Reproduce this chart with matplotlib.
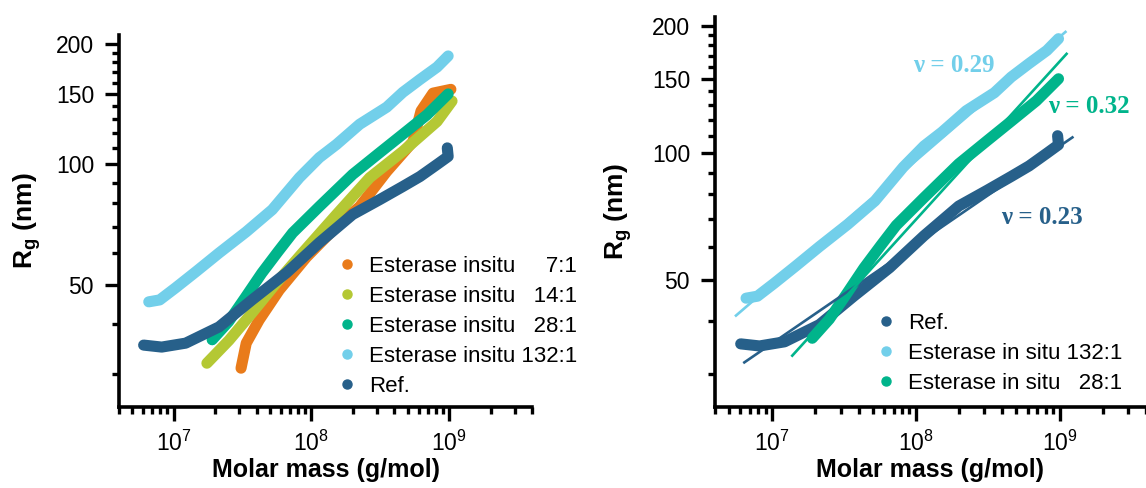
import numpy as np
import matplotlib
matplotlib.use('Agg')
import matplotlib.pyplot as plt
from matplotlib.ticker import FixedLocator, LogLocator, NullFormatter, FixedFormatter
from matplotlib.lines import Line2D

plt.rcParams['font.family'] = ['Liberation Sans', 'DejaVu Sans']
plt.rcParams['mathtext.fontset'] = 'custom'
plt.rcParams['mathtext.rm'] = 'Liberation Sans'
plt.rcParams['mathtext.bf'] = 'Liberation Sans:bold'

# ---- data (molar mass g/mol, Rg nm) ----
ref_m = [6.04e6, 8.17e6, 1.22e7, 2.13e7, 3.7e7, 6.57e7, 1.14e8, 1.99e8, 3.13e8,
         4.61e8, 6.14e8, 8.17e8, 9.84e8, 9.7e8]
ref_rg = [35.4, 35.0, 35.8, 39.3, 45.9, 53.6, 63.8, 75, 81.7, 88.1, 93.3, 100, 104.7, 110]

e132_m = [6.58e6, 7.9e6, 1.03e7, 1.45e7, 2.13e7, 3.36e7, 5.19e7, 8.17e7, 1.14e8,
          1.52e8, 2.24e8, 3.52e8, 4.61e8, 6.14e8, 8.17e8, 9.84e8]
e132_rg = [45.4, 45.9, 49.2, 54, 60.1, 67.9, 77.1, 92.7, 104, 112.2, 126, 139, 151.4,
           163, 175, 186.6]

e28_m = [1.9e7, 2.5e7, 3.3e7, 4.35e7, 5.7e7, 7.3e7, 1.14e8, 1.99e8, 3.13e8, 4.61e8,
         6.9e8, 9.84e8]
e28_rg = [36.5, 40.5, 46.5, 53.5, 60.5, 67.5, 78.5, 94.4, 107, 119, 133, 150]

e14_m = [1.74e7, 2.52e7, 3.7e7, 5.56e7, 8.59e7, 1.52e8, 2.65e8, 4.61e8, 8.17e8, 1.05e9]
e14_rg = [31.9, 36.4, 42.6, 50.6, 60.1, 75, 92.7, 107.8, 128, 144]

e7_m = [3.08e7, 3.36e7, 4.17e7, 5.84e7, 9.2e7, 1.52e8, 2.24e8, 3.52e8, 5.46e8, 6.25e8,
        7.64e8, 1.03e9]
e7_rg = [31.0, 35.8, 40.9, 48.6, 58.7, 70.0, 78.5, 96, 114, 136, 150.7, 154]

# power-law fits drawn on the right panel (end points)
fit_m_lo = [6.4e6, 5.6e6, 1.38e7]
fit_m_hi = [1.23e9, 1.1e9, 1.12e9]
fit_rg_lo = [32.0, 41.3, 33.2]
fit_rg_hi = [109, 193.6, 171.8]
fit_nu = ['0.23', '0.29', '0.32']
nu_m = [7.5e8, 1.84e8, 1.59e9]
nu_rg = [70.5, 161.6, 129]

c_ref = '#27608A'
c_132 = '#72CFEA'
c_28 = '#00B48B'
c_14 = '#B4C834'
c_7 = '#E97B1A'

yticks_major = [50, 100, 150, 200]
yticks_minor = [30, 40, 60, 70, 80, 90, 110, 120, 130, 140, 160, 170, 180, 190]

fig = plt.figure(figsize=(11.46, 4.88), dpi=100)
ax1 = fig.add_axes([119 / 1146, 81 / 488, 413 / 1146, 372 / 488])
ax2 = fig.add_axes([715 / 1146, 81 / 488, 431 / 1146, 390 / 488])

lw = 8


def style(ax, ylo, yhi):
    ax.set_xscale('log')
    ax.set_yscale('log')
    ax.set_xlim(4e6, 4e9)
    ax.set_ylim(ylo, yhi)
    for s in ['top', 'right']:
        ax.spines[s].set_visible(False)
    for s in ['left', 'bottom']:
        ax.spines[s].set_linewidth(2.6)
    ax.yaxis.set_major_locator(FixedLocator(yticks_major))
    ax.yaxis.set_major_formatter(FixedFormatter([str(v) for v in yticks_major]))
    ax.yaxis.set_minor_locator(FixedLocator(yticks_minor))
    ax.yaxis.set_minor_formatter(NullFormatter())
    ax.xaxis.set_major_locator(LogLocator(base=10, numticks=10))
    ax.xaxis.set_minor_locator(LogLocator(base=10, subs=np.arange(2, 10), numticks=20))
    ax.xaxis.set_minor_formatter(NullFormatter())
    ax.tick_params(which='major', direction='out', length=10, width=2.4, labelsize=16.5)
    ax.tick_params(which='minor', direction='out', length=5, width=2.4)
    ax.tick_params(axis='y', which='major', pad=8)
    ax.tick_params(axis='x', which='major', pad=7)
    ax.set_xlabel('Molar mass (g/mol)', fontsize=18, fontweight='bold')
    ax.set_ylabel(r'R$_\mathregular{g}$ (nm)', fontsize=19, fontweight='bold')


def band(ax, m, rg, c):
    ax.plot(m, rg, color=c, lw=lw, solid_capstyle='round', solid_joinstyle='round')


# left panel
style(ax1, 24.8, 210.5)
band(ax1, e7_m, e7_rg, c_7)
band(ax1, e14_m, e14_rg, c_14)
band(ax1, e28_m, e28_rg, c_28)
band(ax1, e132_m, e132_rg, c_132)
band(ax1, ref_m, ref_rg, c_ref)
ax1.xaxis.set_label_coords(0.5, -51 / 372)
ax1.yaxis.set_label_coords(-76 / 413, 0.5)

labels1 = ['Esterase insitu     7:1', 'Esterase insitu   14:1', 'Esterase insitu   28:1',
           'Esterase insitu 132:1', 'Ref.']
cols1 = [c_7, c_14, c_28, c_132, c_ref]
h1 = [Line2D([], [], ls='none', marker='o', ms=6.5, color=c) for c in cols1]
fig.legend(h1, labels1, loc='upper left', bbox_to_anchor=(338 / 1146, 1 - 256 / 488),
           frameon=False, fontsize=16, handlelength=0.8, handletextpad=0.6,
           labelspacing=0.4, borderpad=0, borderaxespad=0)

# right panel
style(ax2, 25.1, 210)
band(ax2, ref_m, ref_rg, c_ref)
band(ax2, e132_m, e132_rg, c_132)
band(ax2, e28_m, e28_rg, c_28)
for i, c in enumerate([c_ref, c_132, c_28]):
    ax2.plot([fit_m_lo[i], fit_m_hi[i]], [fit_rg_lo[i], fit_rg_hi[i]], color=c, lw=1.9)
    ax2.text(nu_m[i], nu_rg[i], '\u03bd = ' + fit_nu[i], color=c, fontsize=18,
             fontweight='bold', family=['Liberation Serif', 'DejaVu Serif'],
             ha='center', va='center')
ax2.xaxis.set_label_coords(0.5, -51 / 390)
ax2.yaxis.set_label_coords(-81 / 431, 0.5)

labels2 = ['Ref.', 'Esterase in situ 132:1', 'Esterase in situ   28:1']
cols2 = [c_ref, c_132, c_28]
h2 = [Line2D([], [], ls='none', marker='o', ms=6.5, color=c) for c in cols2]
fig.legend(h2, labels2, loc='upper left', bbox_to_anchor=(877 / 1146, 1 - 313 / 488),
           frameon=False, fontsize=16, handlelength=0.8, handletextpad=0.6,
           labelspacing=0.4, borderpad=0, borderaxespad=0)

fig.savefig('out.png', dpi=100)
